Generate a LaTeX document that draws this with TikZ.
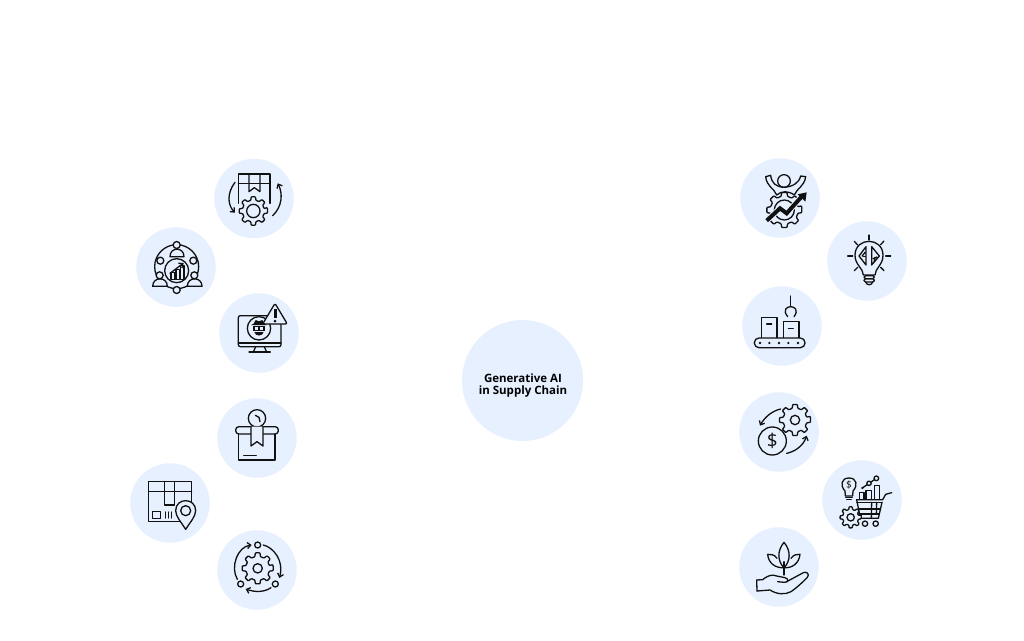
\documentclass[tikz,border=0pt]{standalone}
\usepackage{fontspec}
\setmainfont{Open Sans}
\usetikzlibrary{arrows.meta}
\definecolor{discblue}{HTML}{E6F0FF}
\definecolor{inkc}{HTML}{111111}
\tikzset{
  disc/.style={circle,fill=discblue,draw=none,minimum size=79.5pt,inner sep=0pt},
  hubdisc/.style={circle,fill=discblue,draw=none,minimum size=121pt,inner sep=0pt},
  hubtext/.style={align=center,inner sep=0pt,font=\bfseries\fontsize{11.5}{12.6}\selectfont,text=black},
  ic/.style={draw=inkc,line width=1.3pt,line cap=round,line join=round},
  icf/.style={ic,fill=discblue},
  solid ink/.style={fill=inkc,draw=none},
  barb/.style={-{Straight Barb[length=3.4pt,width=6pt]}},
  panel/.style={x=.33333pt,y=-.33333pt}
}
\newcommand{\gearic}[6]{%
  \begin{scope}[shift={(#1,#2)}]
  \pgfmathsetmacro{\gs}{360/#5}
  \draw[icf,rounded corners=.7pt] (-0.30*\gs:#3)
    \foreach \k in {1,...,#5}{ -- ({(\k-1)*\gs-0.19*\gs}:#3) -- ({(\k-1)*\gs+0.19*\gs}:#3) -- ({(\k-1)*\gs+0.30*\gs}:#4) -- ({\k*\gs-0.30*\gs}:#4)} -- cycle;
  \draw[ic] (0,0) circle[radius=#6];
  \end{scope}}
\begin{document}
\begin{tikzpicture}[x=1pt,y=-1pt]
\useasboundingbox (0,0) rectangle (1024,640);
\node[hubdisc] (hub) at (522.5,380.5) {};
\node[hubtext] (hublabel) at (523,385.5) {Generative AI\\in Supply Chain};
\node[disc] (l1) at (254,198.5) {};
\node[disc] (l2) at (176,267) {};
\node[disc] (l3) at (259,333) {};
\node[disc] (l4) at (257,438) {};
\node[disc] (l5) at (170,503) {};
\node[disc] (l6) at (257,570) {};
\node[disc] (r1) at (780,198) {};
\node[disc] (r2) at (867,261) {};
\node[disc] (r3) at (782,326) {};
\node[disc] (r4) at (779,432) {};
\node[disc] (r5) at (862,500) {};
\node[disc] (r6) at (779,567) {};

% ---------- upper left
\begin{scope}[shift={(125,150)},panel]
 % box and gear
 \draw[ic] (340,160) -- (340,72) -- (435,72) -- (435,160);
 \draw[ic] (340,100) -- (435,100);
 \draw[ic] (372,72) -- (372,125) -- (388,113) -- (405,125) -- (405,72);
 \gearic{385}{183}{43}{33}{8}{20}
 \draw[ic,barb] (330,97) .. controls (305,130) and (308,165) .. (330,188);
 \draw[ic,barb] (443,197) .. controls (472,170) and (474,130) .. (458,100);
 % people ring
 \draw[ic] (155,350) circle[radius=66];
 \draw[icf] (155,362) circle[radius=36];
 \draw[ic] (138,388) rectangle (150,368);
 \draw[ic] (153,388) rectangle (163,358);
 \draw[ic] (166,388) rectangle (177,346);
 \draw[ic,barb] (135,370) -- (176,339);
 \draw[icf] (135,320) .. controls (135,290) and (177,290) .. (177,320) -- cycle;
 \draw[icf] (83,409) .. controls (83,379) and (127,379) .. (127,409) -- cycle;
 \draw[icf] (187,409) .. controls (187,379) and (231,379) .. (231,409) -- cycle;
 \foreach \p/\q in {155/285,106/332,205/332,104/376,208/376,155/420}
   \draw[icf] (\p,\q) circle[radius=10.5];
 % monitor
 \draw[ic] (392,590) -- (386,604); \draw[ic] (418,590) -- (424,604);
 \draw[ic] (372,606) -- (436,606);
 \draw[ic,rounded corners=2pt] (340,497) rectangle (468,590);
 \draw[ic] (340,579) -- (468,579);
 \draw[ic] (402,535) circle[radius=35];
 \fill[solid ink] (386,521) -- (392,510) -- (402,514) -- (412,510) -- (418,521) -- (426,525) -- (378,525) -- cycle;
 \fill[solid ink] (384,529) rectangle (420,543);
 \fill[solid ink] (388,546) .. controls (390,560) and (414,560) .. (416,546) -- cycle;
 \fill[discblue] (389,532) rectangle (399,539);
 \fill[discblue] (405,532) rectangle (415,539);
 \draw[icf,rounded corners=2pt] (450,460) -- (487,522) -- (413,522) -- cycle;
 \draw[draw=inkc,line width=3pt] (450,478) -- (450,504);
 \fill[solid ink] (450,513) circle[radius=4.5];
\end{scope}

% ---------- lower left
\begin{scope}[shift={(125,390)},panel]
 % gauge parcel
 \draw[ic] (396,85) circle[radius=26];
 \draw[ic] (391,76) -- (402,82) -- (405,95);
 \draw[icf,rounded corners=3.2pt] (332,110) rectangle (460,132);
 \draw[ic] (341,132) -- (341,210) -- (450,210) -- (450,132);
 \draw[icf] (378,110) -- (378,168) -- (396,155) -- (414,168) -- (414,110);
 \draw[ic] (356,196) -- (394,196);
 % located parcel
 \draw[ic] (71,274) rectangle (200,394);
 \draw[ic] (71,305) -- (200,305);
 \draw[ic] (118,274) -- (118,345) -- (148,345) -- (148,274);
 \draw[ic] (82,364) rectangle (106,385);
 \foreach \p in {122,131,140} \draw[ic] (\p,366) -- (\p,384);
 \draw[icf] (182,418) .. controls (170,398) and (152,380) .. (152,362) .. controls (152,322) and (212,322) .. (212,362) .. controls (212,380) and (194,398) .. (182,418) -- cycle;
 \draw[ic] (182,362) circle[radius=15];
 % gear cycle
 \gearic{398}{535}{47}{36}{8}{14}
 \draw[ic] (398,465) circle[radius=9];
 \draw[ic] (451,582) circle[radius=9];
 \draw[ic] (347,582) circle[radius=9];
 \draw[ic,barb] (415,465) .. controls (445,472) and (478,512) .. (463,564);
 \draw[ic,barb] (438,593) .. controls (418,607) and (390,607) .. (362,597);
 \draw[ic,barb] (337,568) .. controls (315,530) and (338,470) .. (380,465);
\end{scope}

% ---------- upper right
\begin{scope}[shift={(735,150)},panel]
 % person on gear
 \gearic{148}{180}{53}{42}{8}{30}
 \draw[icf] (92,80) .. controls (95,110) and (118,115) .. (125,135) .. controls (140,122) and (160,122) .. (178,135) .. controls (185,115) and (208,110) .. (212,80) -- (197,78) .. controls (192,100) and (172,110) .. (147,112) .. controls (122,110) and (110,100) .. (107,76) -- cycle;
 \draw[ic] (147,93) circle[radius=19];
 \draw[draw=discblue,line width=6pt] (95,212) -- (135,175) -- (155,190) -- (198,142);
 \draw[draw=inkc,line width=4pt] (95,212) -- (135,175) -- (155,190) -- (198,142);
 \fill[solid ink] (215,127) -- (211,155) -- (188,133) -- cycle;
 % bulb
 \draw[ic] (385,375) .. controls (385,355) and (360,345) .. (360,316) .. controls (360,260) and (444,260) .. (444,316) .. controls (444,345) and (420,355) .. (420,375) -- cycle;
 \draw[ic,rounded corners=1.5pt] (387,377) rectangle (418,386);
 \draw[ic,rounded corners=1.5pt] (387,386) rectangle (418,396);
 \draw[ic] (392,396) .. controls (395,407) and (410,407) .. (413,396);
 \draw[ic] (393,290) -- (372,318) -- (393,345) -- cycle;
 \draw[ic] (410,290) -- (433,318) -- (410,345) -- cycle;
 \draw[ic] (381,318) -- (390,308);
 \draw[ic] (384,320) -- (391,320);
 \draw[ic] (414,326) -- (425,322);
 \draw[ic] (420,322) -- (418,334);
 \fill[solid ink] (390,308) circle[radius=3];
 \fill[solid ink] (425,322) circle[radius=3];
 \fill[solid ink] (418,334) circle[radius=2.5];
 \foreach \a/\b/\c/\d in {402/255/402/270,447/273/437/284,467/318/452/318,447/362/437/352,358/362/368/352,338/318/353/318,358/274/368/285}
   \draw[ic] (\a,\b) -- (\c,\d);
 % conveyor
 \draw[ic] (167,438) -- (167,470);
 \draw[ic] (158,500) .. controls (142,480) and (155,470) .. (167,470) .. controls (179,470) and (192,480) .. (177,500);
 \draw[ic] (80,563) -- (80,503) -- (126,503) -- (126,563);
 \draw[ic] (95,522) -- (110,522);
 \draw[ic] (145,563) -- (145,515) -- (192,515) -- (192,563);
 \draw[ic] (160,536) -- (175,536);
 \draw[ic,rounded corners=4.6pt] (58,564) rectangle (210,593);
 \foreach \p in {75,103,132,160,189} \fill[solid ink] (\p,579) circle[radius=4];
\end{scope}

% ---------- lower right
\begin{scope}[shift={(735,385)},panel]
 % money gear
 \gearic{180}{105}{47}{36}{8}{14}
 \draw[icf] (112,168) circle[radius=42];
 \node[font=\fontsize{19}{19}\selectfont,text=inkc,inner sep=0pt] (dollara) at (112,169) {\$};
 \draw[ic,barb] (137,72) .. controls (110,78) and (88,98) .. (75,122);
 \draw[ic,barb] (155,205) .. controls (180,200) and (205,182) .. (215,152);
 % cart
 \draw[ic] (330,318) .. controls (315,302) and (318,279) .. (342,279) .. controls (366,279) and (369,302) .. (354,318) -- (353,333) -- (331,333) -- cycle;
 \draw[ic] (332,338) -- (352,338); \draw[ic] (335,344) -- (349,344);
 \node[font=\fontsize{10}{10}\selectfont,text=inkc,inner sep=0pt] (dollarb) at (342,299) {\$};
 \draw[ic] (382,309) -- (424,280);
 \fill[solid ink] (382,309) circle[radius=4];
 \draw[icf] (402,295) circle[radius=6.5];
 \draw[icf] (424,280) circle[radius=7];
 \draw[ic] (373,342) -- (373,323) -- (387,323) -- (387,342);
 \draw[ic] (393,342) -- (393,317) -- (410,317) -- (410,342);
 \draw[ic] (418,342) -- (418,302) -- (433,302) -- (433,342);
 \draw[ic] (365,344) -- (443,344) -- (452,328) -- (470,323);
 \draw[ic] (365,352) -- (441,352);
 \draw[ic] (365,344) -- (376,400) -- (430,400) -- (441,352);
 \draw[ic] (369,372) -- (436,372);
 \draw[ic] (372,387) -- (433,387);
 \draw[ic] (410,352) -- (409,400);
 \draw[ic] (425,352) -- (424,387);
 \draw[ic] (390,416) circle[radius=8];
 \draw[ic] (422,416) circle[radius=8];
 \gearic{347}{397}{32}{24}{8}{11}
 % plant in hand
 \draw[ic] (147,472) .. controls (125,498) and (128,530) .. (147,548) .. controls (166,530) and (169,498) .. (147,472) -- cycle;
 \draw[ic] (126,520) .. controls (118,508) and (108,508) .. (98,508) .. controls (100,535) and (122,550) .. (147,548) .. controls (172,550) and (192,535) .. (195,508) .. controls (186,508) and (176,508) .. (168,520);
 \draw[ic] (147,530) -- (147,570);
 \draw[ic] (65,585) -- (83,584) .. controls (100,570) and (112,568) .. (125,573) -- (150,578) .. controls (164,583) and (160,592) .. (148,592) -- (128,590);
 \draw[ic] (155,590) -- (205,563) .. controls (215,558) and (225,568) .. (217,577) .. controls (200,595) and (180,612) .. (168,620) .. controls (150,630) and (125,628) .. (105,615) -- (66,618);
 \draw[ic] (65,585) -- (66,618);
\end{scope}
\end{tikzpicture}
\end{document}
